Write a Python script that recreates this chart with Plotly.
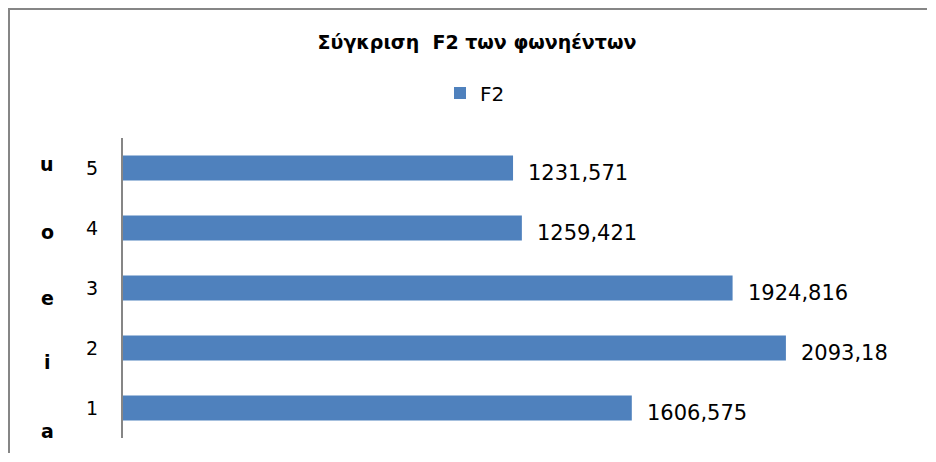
import plotly.graph_objects as go

categories = ["1", "2", "3", "4", "5"]
f2_values = [1606.575, 2093.18, 1924.816, 1259.421, 1231.571]
vowels = ["a", "i", "e", "o", "u"]
vowel_pixel_y = [431, 362, 298, 232, 164]
series_name = "F2"
title_text = "Σύγκριση  F2 των φωνηέντων"

BAR = "#4F81BD"
GRAY = "#868686"
FONT = "DejaVu Sans"

OFF = 8  # page body margin
W, H = 920, 446
L, R, T, B = 115, 16, 130, 16
pw = W - L - R
ph = H - T - B

def px_x(p):
    return (p - OFF - L) / pw

def px_y(p):
    return (H - B - (p - OFF)) / ph

fig = go.Figure()
fig.add_trace(go.Bar(
    x=f2_values, y=categories, orientation="h", name=series_name,
    marker=dict(color=BAR, line=dict(width=0)), showlegend=True,
))

annotations = []
for i, v in enumerate(f2_values):
    annotations.append(dict(
        x=v, y=i, xref="x", yref="y", text=str(v).replace(".", ","),
        showarrow=False, xanchor="left", yanchor="middle", xshift=13, yshift=-5,
        font=dict(family=FONT, size=21, color="#000000"),
    ))
for vw, yy in zip(vowels, vowel_pixel_y):
    annotations.append(dict(
        x=px_x(47), y=px_y(yy), xref="paper", yref="paper", text="<b>" + vw + "</b>",
        showarrow=False, xanchor="center", yanchor="middle",
        font=dict(family=FONT, size=19, color="#000000"),
    ))

shapes = [
    dict(type="line", xref="paper", yref="paper", x0=px_x(8), x1=px_x(927),
         y0=px_y(9), y1=px_y(9), line=dict(color=GRAY, width=2)),
    dict(type="line", xref="paper", yref="paper", x0=px_x(9), x1=px_x(9),
         y0=px_y(8), y1=px_y(453), line=dict(color=GRAY, width=2)),
]

fig.update_layout(
    width=W, height=H,
    margin=dict(l=L, r=R, t=T, b=B, autoexpand=False),
    paper_bgcolor="white", plot_bgcolor="white",
    font=dict(family=FONT, size=19, color="#000000"),
    title=dict(text="<b>" + title_text + "</b>", x=(477 - OFF) / W, xanchor="center",
               y=1 - (42 - OFF) / H, yanchor="middle", xref="container", yref="container",
               font=dict(family=FONT, size=19, color="#000000")),
    legend=dict(orientation="h", x=(475 - OFF) / W, xanchor="center", y=1 - (93 - OFF) / H,
                yanchor="middle", xref="container", yref="container",
                font=dict(family=FONT, size=20, color="#000000"),
                itemwidth=30, bgcolor="rgba(0,0,0,0)"),
    bargap=0.58,
    xaxis=dict(range=[0, pw / 0.3167], visible=False, showgrid=False, zeroline=False),
    yaxis=dict(type="category", categoryorder="array", categoryarray=categories,
               range=[-0.5, 4.5], showline=True, linecolor=GRAY, linewidth=2,
               ticks="", showgrid=False, zeroline=False, ticklabelstandoff=19,
               tickfont=dict(family=FONT, size=19, color="#000000")),
    annotations=annotations,
    shapes=shapes,
)

fig.write_html("out.html", config=dict(displayModeBar=False))
